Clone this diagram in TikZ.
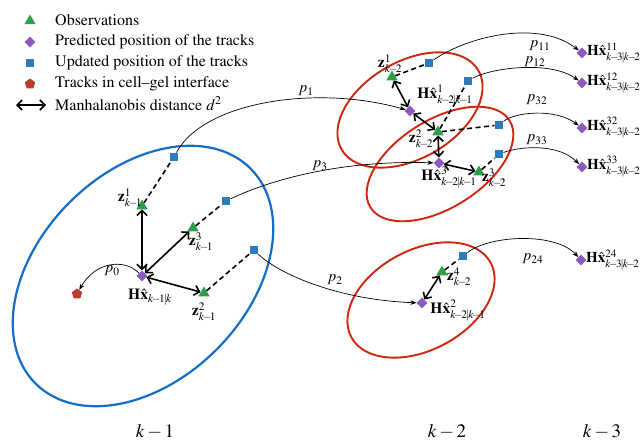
\documentclass[tikz,border=0pt]{standalone}
\usepackage[T1]{fontenc}
\usepackage{mathptmx}
\usetikzlibrary{shapes.geometric,arrows.meta}
\definecolor{obsgreen}{RGB}{46,158,72}
\definecolor{predpurple}{RGB}{140,90,190}
\definecolor{updblue}{RGB}{45,125,190}
\definecolor{penred}{RGB}{185,60,45}
\definecolor{ellred}{RGB}{205,40,15}
\definecolor{ellblue}{RGB}{20,110,200}
\newcommand{\kmin}{\mkern-2.5mu-\mkern-2.5mu}
\newcommand{\kbar}{\mkern-1.5mu|\mkern-1.5mu}
\begin{document}
\begin{tikzpicture}[x=1pt,y=-1pt,
 obs/.style={regular polygon, regular polygon sides=3, fill=obsgreen, inner sep=0pt, minimum size=13pt},
 pred/.style={diamond, fill=predpurple, inner sep=0pt, minimum size=11pt},
 upd/.style={rectangle, fill=updblue, inner sep=0pt, minimum size=8.5pt},
 gel/.style={regular polygon, regular polygon sides=5, fill=penred, inner sep=0pt, minimum size=11pt},
 dist/.style={{Straight Barb[length=5pt,width=10pt]}-{Straight Barb[length=5pt,width=10pt]}, line width=1.6pt},
 assoc/.style={dash pattern=on 5pt off 3.5pt, line width=1.6pt},
 prop/.style={-{Stealth[length=6pt,width=4.5pt]}, line width=0.7pt},
 lbl/.style={inner sep=0pt, font=\fontsize{15.5}{17}\selectfont},
 rlbl/.style={inner sep=0pt, anchor=west, font=\fontsize{15}{17}\selectfont},
 leg/.style={inner sep=0pt, anchor=west, font=\fontsize{16}{18}\selectfont},
 axl/.style={inner sep=0pt, font=\fontsize{19}{21}\selectfont},
 ellr/.style={ellred, line width=1.9pt},
]
\useasboundingbox[fill=white] (0,0) rectangle (642,444);

% ellipses
\draw[ellblue, line width=2.2pt, shift={(143,276)}, rotate=45] (0,0) ellipse [x radius=152pt, y radius=104pt];
\draw[ellr, shift={(410,110)}, rotate=30] (0,0) ellipse [x radius=79pt, y radius=48.5pt];
\draw[ellr, shift={(440,164)}, rotate=32] (0,0) ellipse [x radius=82pt, y radius=44pt];
\draw[ellr, shift={(421,300)}, rotate=28] (0,0) ellipse [x radius=79pt, y radius=50pt];

% legend
\node[obs] (lg1) at (30,21) {};
\node[pred] (lg2) at (30,42) {};
\node[upd] (lg3) at (30,63) {};
\node[gel] (lg4) at (30,84) {};
\coordinate (lga) at (16,105);
\coordinate (lgb) at (46,105);
\draw[dist] (lga) -- (lgb);
\node[leg] (lt1) at (55,20) {Observations};
\node[leg] (lt2) at (55,42) {Predicted position of the tracks};
\node[leg] (lt3) at (55,63) {Updated position of the tracks};
\node[leg] (lt4) at (55,84) {Tracks in cell--gel interface};
\node[leg] (lt5) at (55,104) {Manhalanobis distance $d^2$};

% k-1 group
\node[pred] (h0) at (142,276) {};
\node[gel] (pg) at (77,294) {};
\node[obs] (za1) at (142,206) {};
\node[obs] (za3) at (193,228) {};
\node[obs] (za2) at (204,293) {};
\node[upd] (sa1) at (174,157) {};
\node[upd] (sa3) at (226,201) {};
\node[upd] (sa2) at (254,250) {};

% k-2 group
\node[pred] (h1) at (410,111) {};
\node[obs] (zb1) at (392,77) {};
\node[obs] (zb2) at (438,132) {};
\node[pred] (h3) at (439,163) {};
\node[obs] (zb3) at (479,172) {};
\node[upd] (sb11) at (429,63) {};
\node[upd] (sb12) at (468,81) {};
\node[upd] (sb32) at (499,125) {};
\node[upd] (sb33) at (499,154) {};
\node[pred] (h2) at (422,303) {};
\node[obs] (zb4) at (442,272) {};
\node[upd] (sb24) at (463,256) {};

% k-3 group
\node[pred] (h11) at (582,53) {};
\node[pred] (h12) at (582,83) {};
\node[pred] (h32) at (582,128) {};
\node[pred] (h33) at (582,167) {};
\node[pred] (h24) at (581,260) {};

% Mahalanobis distances
\draw[dist] (h0) -- (za1);
\draw[dist] (h0) -- (za3);
\draw[dist] (h0) -- (za2);
\draw[dist] (h1) -- (zb1);
\draw[dist] (h1) -- (zb2);
\draw[dist] (zb2) -- (h3);
\draw[dist] (h3) -- (zb3);
\draw[dist] (h2) -- (zb4);

% associations
\draw[assoc] (za1) -- (sa1);
\draw[assoc] (za3) -- (sa3);
\draw[assoc] (za2) -- (sa2);
\draw[assoc] (zb1) -- (sb11);
\draw[assoc] (zb2) -- (sb12);
\draw[assoc] (zb2) -- (sb32);
\draw[assoc] (zb3) -- (sb33);
\draw[assoc] (zb4) -- (sb24);

% propagations
\draw[prop] (h0) .. controls +(-18,-18) and +(18,-32) .. (pg);
\draw[prop] (sa1) .. controls (205,100) and (320,85) .. (h1);
\draw[prop] (sa3) .. controls (270,180) and (340,160) .. (h3);
\draw[prop] (sa2) .. controls (280,275) and (340,300) .. (h2);
\draw[prop] (sb11) .. controls (470,35) and (540,20) .. (h11);
\draw[prop] (sb12) .. controls (490,68) and (550,60) .. (h12);
\draw[prop] (sb32) .. controls (515,112) and (555,108) .. (h32);
\draw[prop] (sb33) .. controls (525,145) and (560,145) .. (h33);
\draw[prop] (sb24) .. controls (490,235) and (555,232) .. (h24);

% labels
\node[lbl] (lh0) at (150,297) {$\mathbf{H}\hat{\mathbf{x}}_{k\kmin1\kbar k}$};
\node[lbl] (lp0) at (112,271) {$p_0$};
\node[lbl] (lza1) at (130,198) {$\mathbf{z}^1_{k\kmin1}$};
\node[lbl] (lza3) at (201,242) {$\mathbf{z}^3_{k\kmin1}$};
\node[lbl] (lza2) at (204,312) {$\mathbf{z}^2_{k\kmin1}$};
\node[lbl] (lp1) at (306,91) {$p_1$};
\node[lbl] (lp3) at (320,166) {$p_3$};
\node[lbl] (lp2) at (335,280) {$p_2$};

\node[lbl] (lzb1) at (390,64) {$\mathbf{z}^1_{k\kmin2}$};
\node[lbl] (lh1) at (445,96) {$\mathbf{H}\hat{\mathbf{x}}^1_{k\kmin2\kbar k\kmin1}$};
\node[lbl] (lzb2) at (421,139) {$\mathbf{z}^2_{k\kmin2}$};
\node[lbl] (lh3) at (449,178) {$\mathbf{H}\hat{\mathbf{x}}^3_{k\kmin2\kbar k\kmin1}$};
\node[lbl] (lzb3) at (494,178) {$\mathbf{z}^3_{k\kmin2}$};
\node[lbl] (lzb4) at (459,277) {$\mathbf{z}^4_{k\kmin2}$};
\node[lbl] (lh2) at (458,311) {$\mathbf{H}\hat{\mathbf{x}}^2_{k\kmin2\kbar k\kmin1}$};

\node[lbl] (lp11) at (540,46) {$p_{11}$};
\node[lbl] (lp12) at (535,62) {$p_{12}$};
\node[lbl] (lp32) at (537,100) {$p_{32}$};
\node[lbl] (lp33) at (537,140) {$p_{33}$};
\node[lbl] (lp24) at (533,259) {$p_{24}$};

\node[rlbl] (lh11) at (587,53) {$\mathbf{H}\hat{\mathbf{x}}^{11}_{k\kmin3\kbar k\kmin2}$};
\node[rlbl] (lh12) at (587,83) {$\mathbf{H}\hat{\mathbf{x}}^{12}_{k\kmin3\kbar k\kmin2}$};
\node[rlbl] (lh32) at (587,128) {$\mathbf{H}\hat{\mathbf{x}}^{32}_{k\kmin3\kbar k\kmin2}$};
\node[rlbl] (lh33) at (587,167) {$\mathbf{H}\hat{\mathbf{x}}^{33}_{k\kmin3\kbar k\kmin2}$};
\node[rlbl] (lh24) at (586,260) {$\mathbf{H}\hat{\mathbf{x}}^{24}_{k\kmin3\kbar k\kmin2}$};

% time axis labels
\node[axl] (ax1) at (155,432) {$k-1$};
\node[axl] (ax2) at (447,432) {$k-2$};
\node[axl] (ax3) at (602,432) {$k-3$};
\end{tikzpicture}
\end{document}
